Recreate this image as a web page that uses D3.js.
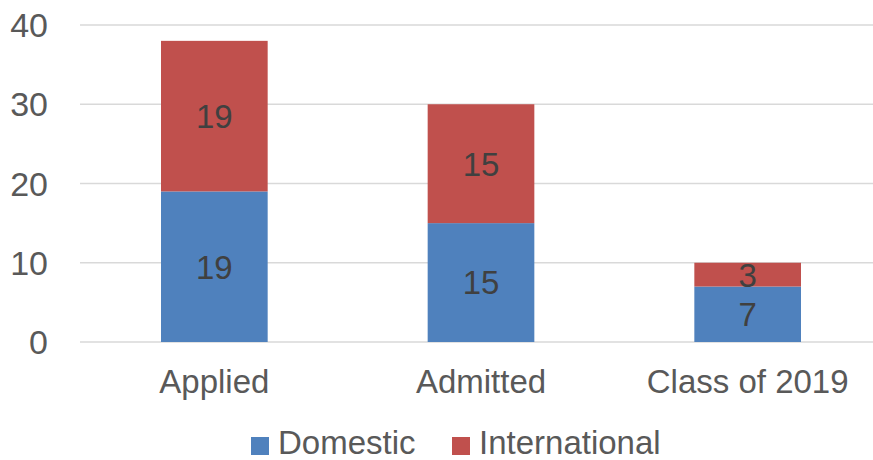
<!DOCTYPE html>
<html>
<head>
<meta charset="utf-8">
<script src="https://cdn.jsdelivr.net/npm/d3@7"></script>
<style>
  body { margin: 0; background: #fff; }
  svg { display: block; font-family: "Liberation Sans", Arial, sans-serif; }
</style>
</head>
<body>
<svg id="chart" width="873" height="460"></svg>
<script>
var categories = ["Applied", "Admitted", "Class of 2019"];
var seriesNames = ["Domestic", "International"];
var domestic = [19, 15, 7];
var international = [19, 15, 3];
var yTicks = [0, 10, 20, 30, 40];

var colors = { Domestic: "#4F81BD", International: "#C0504D" };

var svg = d3.select("#chart");
var W = 873, H = 460;

// plot area runs past the right edge, like the cropped original
var x = d3.scaleBand().domain(categories).range([81, 881]).padding(0);
var y = d3.scaleLinear().domain([0, 40]).range([342, 25]);
var barW = x.bandwidth() * 0.4;

var rows = categories.map(function(c, i) {
  return { cat: c, Domestic: domestic[i], International: international[i] };
});
var stacked = d3.stack().keys(seriesNames)(rows);

// gridlines
svg.append("g").selectAll("line")
   .data(yTicks)
   .enter().append("line")
   .attr("x1", 80).attr("x2", W)
   .attr("y1", function(d) { return y(d); })
   .attr("y2", function(d) { return y(d); })
   .attr("stroke", "#D9D9D9")
   .attr("stroke-width", 1.5);

// y tick labels
svg.append("g").selectAll("text")
   .data(yTicks)
   .enter().append("text")
   .attr("x", 48)
   .attr("y", function(d) { return y(d); })
   .attr("dy", "0.36em")
   .attr("text-anchor", "end")
   .attr("fill", "#595959")
   .attr("font-size", 34)
   .text(function(d) { return d; });

// bars
var layers = svg.append("g").selectAll("g")
   .data(stacked)
   .enter().append("g")
   .attr("fill", function(d) { return colors[d.key]; });

layers.selectAll("rect")
   .data(function(d) { return d; })
   .enter().append("rect")
   .attr("x", function(d) { return x(d.data.cat) + (x.bandwidth() - barW) / 2; })
   .attr("y", function(d) { return y(d[1]); })
   .attr("width", barW)
   .attr("height", function(d) { return y(d[0]) - y(d[1]); });

// data labels
layers.selectAll("text")
   .data(function(d) { return d; })
   .enter().append("text")
   .attr("x", function(d) { return x(d.data.cat) + x.bandwidth() / 2; })
   .attr("y", function(d) { return (y(d[0]) + y(d[1])) / 2; })
   .attr("dy", "0.36em")
   .attr("text-anchor", "middle")
   .attr("fill", "#404040")
   .attr("font-size", 33)
   .text(function(d) { return d[1] - d[0]; });

// category labels
svg.append("g").selectAll("text")
   .data(categories)
   .enter().append("text")
   .attr("x", function(d) { return x(d) + x.bandwidth() / 2; })
   .attr("y", 393)
   .attr("text-anchor", "middle")
   .attr("fill", "#595959")
   .attr("font-size", 33)
   .text(function(d) { return d; });

// legend
var legendX = [251, 452];
var legend = svg.append("g").selectAll("g")
   .data(seriesNames)
   .enter().append("g")
   .attr("transform", function(d, i) { return "translate(" + legendX[i] + ",0)"; });
legend.append("rect")
   .attr("x", 0).attr("y", 437)
   .attr("width", 18).attr("height", 18)
   .attr("fill", function(d) { return colors[d]; });
legend.append("text")
   .attr("x", 27).attr("y", 454)
   .attr("fill", "#595959")
   .attr("font-size", 33)
   .text(function(d) { return d; });
</script>
</body>
</html>
